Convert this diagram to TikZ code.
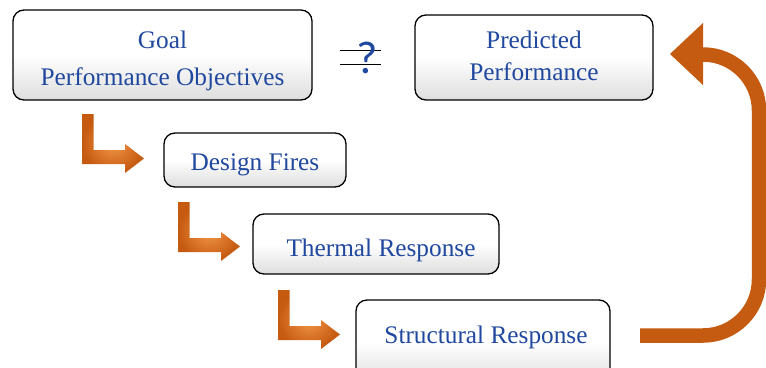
\documentclass[tikz,border=0pt]{standalone}
\usepackage{fontspec}
\setmainfont{Liberation Serif}
\newfontfamily\qfont{Carlito}
\definecolor{txtblue}{RGB}{32,72,158}
\definecolor{darkor}{RGB}{197,90,17}
\definecolor{lightor}{RGB}{242,150,70}
\tikzset{
  box/.style={draw=black, line width=1.3pt, rounded corners=11pt, top color=white, bottom color=black!13, middle color=white,
    text=txtblue, align=center, inner sep=0pt},
  lshape/.style={inner color=lightor, outer color=darkor},
  lbl/.style={text=txtblue, align=center, inner sep=0pt},
}
\newcommand{\Larrow}[2]{%
  \shade[lshape] (#1,#2) -- (#1+11.5,#2) -- (#1+11.5,#2+36) -- (#1+43,#2+36) -- (#1+43,#2+30) -- (#1+62,#2+44.5)
    -- (#1+43,#2+59) -- (#1+43,#2+50) -- (#1,#2+50) -- cycle;}
\begin{document}
\begin{tikzpicture}[x=1pt,y=-1pt]
\useasboundingbox (0,0) rectangle (766,367);
\clip (0,0) rectangle (766,367);
\node[box, minimum width=299pt, minimum height=90pt] (goal) at (162.5,55) {};
\node[lbl, font=\fontsize{25.3}{37}\selectfont] (goalt) at (162.5,61) {Goal\\Performance Objectives};
\node[box, minimum width=238pt, minimum height=85pt] (pred) at (534,57.5) {};
\node[lbl, font=\fontsize{25.3}{32}\selectfont] (predt) at (534,56) {Predicted\\Performance};
\node[box, minimum width=182pt, minimum height=54pt] (fires) at (255,160) {};
\node[lbl, font=\fontsize{25.3}{26}\selectfont] (firest) at (255,165) {Design Fires};
\node[box, minimum width=246pt, minimum height=60pt] (therm) at (376,244) {};
\node[lbl, font=\fontsize{25.3}{26}\selectfont] (thermt) at (381,250) {Thermal Response};
\node[box, minimum width=254pt, minimum height=84pt] (struct) at (483,342) {};
\node[lbl, font=\fontsize{25.3}{26}\selectfont] (structt) at (486,337) {Structural Response};
% question mark
\coordinate (q1a) at (340,50); \coordinate (q1b) at (381,50);
\coordinate (q2a) at (340,64); \coordinate (q2b) at (381,64);
\draw[line width=1pt] (q1a) -- (q1b);
\draw[line width=1pt] (q2a) -- (q2b);
\node[text=txtblue, font=\qfont\fontsize{46}{46}\selectfont, inner sep=0pt] (qm) at (367,58) {?};
% L arrows
\Larrow{82}{114}
\Larrow{178}{202}
\Larrow{278}{290}
% big return arrow
\coordinate (r0) at (640,335.5);
\coordinate (r1) at (759,335.5);
\coordinate (r2) at (759,54.5);
\coordinate (r3) at (704,54.5);
\draw[darkor, line width=14.5pt, rounded corners=56pt] (r0) -- (r1) -- (r2) -- (r3);
\fill[darkor] (703,23) -- (670,54) -- (703,85) -- cycle;
\end{tikzpicture}
\end{document}
